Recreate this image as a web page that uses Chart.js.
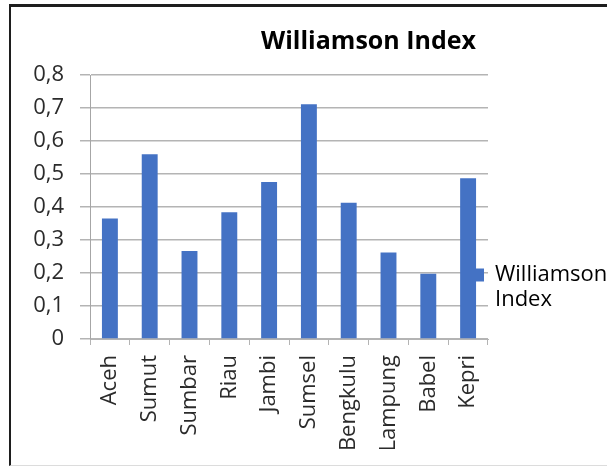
<!DOCTYPE html>
<html>
<head>
<meta charset="utf-8">
<script src="https://cdn.jsdelivr.net/npm/chart.js@4/dist/chart.umd.min.js"></script>
<style>
  html, body { margin: 0; padding: 0; background: #fff; overflow: hidden; }
  #wrap { position: relative; width: 607px; height: 466px; }
  #frame {
    position: absolute; left: 9px; top: 4px; width: 640px; height: 458px;
    border-top: 3px solid #1e1e1e; border-left: 2px solid #1e1e1e;
    border-bottom: 1px solid #dcdcdc; pointer-events: none;
  }
  canvas { position: absolute; left: 0; top: 0; }
</style>
</head>
<body>
<div id="wrap">
  <canvas id="bar-chart" width="607" height="466"></canvas>
  <div id="frame"></div>
</div>
<script>
const provinces = ['Aceh', 'Sumut', 'Sumbar', 'Riau', 'Jambi', 'Sumsel', 'Bengkulu', 'Lampung', 'Babel', 'Kepri'];
const williamson = [0.365, 0.56, 0.267, 0.384, 0.476, 0.711, 0.413, 0.262, 0.198, 0.487];
const legendLines = ['Williamson', 'Index'];

const blue = '#4472C4';
const gridGray = '#b4b4b4';

Chart.defaults.font.family = '"Open Sans"';
Chart.defaults.font.size = 22;
Chart.defaults.color = '#2b2b2b';

// excel lets the title and legend sit off the plot grid, so nudge them a bit
const nudge = {
  id: 'nudge',
  afterLayout(chart) {
    const t = chart.titleBlock;
    t.left += 50; t.right += 50;
    const lg = chart.legend;
    lg.left -= 17; lg.right = chart.width;
    lg.top += 58; lg.bottom += 58;
  }
};

const bc = document.getElementById('bar-chart');

const data = {
  labels: provinces,
  datasets: [{
    label: legendLines.join(' '),
    data: williamson,
    backgroundColor: blue,
    borderWidth: 0,
    barPercentage: 0.4,
    categoryPercentage: 1
  }]
};

const options = {
  responsive: false,
  animation: false,
  layout: { padding: { left: 30, right: 0, top: 10, bottom: 17 } },
  scales: {
    x: {
      afterFit: s => { s.height = 110; },
      grid: { offset: true, drawOnChartArea: false, drawTicks: true, tickLength: 6, color: gridGray },
      border: { color: gridGray },
      ticks: { minRotation: 90, maxRotation: 90, autoSkip: false, padding: 10 }
    },
    y: {
      min: 0,
      max: 0.8,
      afterFit: s => { s.width = 60; },
      grid: { color: gridGray, lineWidth: 1.5, tickLength: 10 },
      border: { color: '#a6a6a6' },
      ticks: {
        stepSize: 0.1,
        padding: 16,
        callback: v => v === 0 ? '0' : v.toFixed(1).replace('.', ',')
      }
    }
  },
  plugins: {
    title: {
      display: true,
      text: 'Williamson Index',
      color: '#000',
      font: { size: 25, weight: 'bold' },
      padding: { top: 17, bottom: 18 }
    },
    legend: {
      position: 'right',
      maxWidth: 119,
      labels: {
        boxWidth: 10,
        boxHeight: 13,
        padding: 3,
        generateLabels: chart => legendLines.map((txt, i) => ({
          text: txt,
          fillStyle: i === 0 ? blue : 'rgba(0,0,0,0)',
          strokeStyle: 'rgba(0,0,0,0)',
          lineWidth: 0,
          hidden: false,
          datasetIndex: 0
        }))
      }
    },
    tooltip: { enabled: false }
  }
};

let bar = new Chart(bc, {
  type: 'bar',
  data: data,
  options: options,
  plugins: [nudge]
});
</script>
</body>
</html>
